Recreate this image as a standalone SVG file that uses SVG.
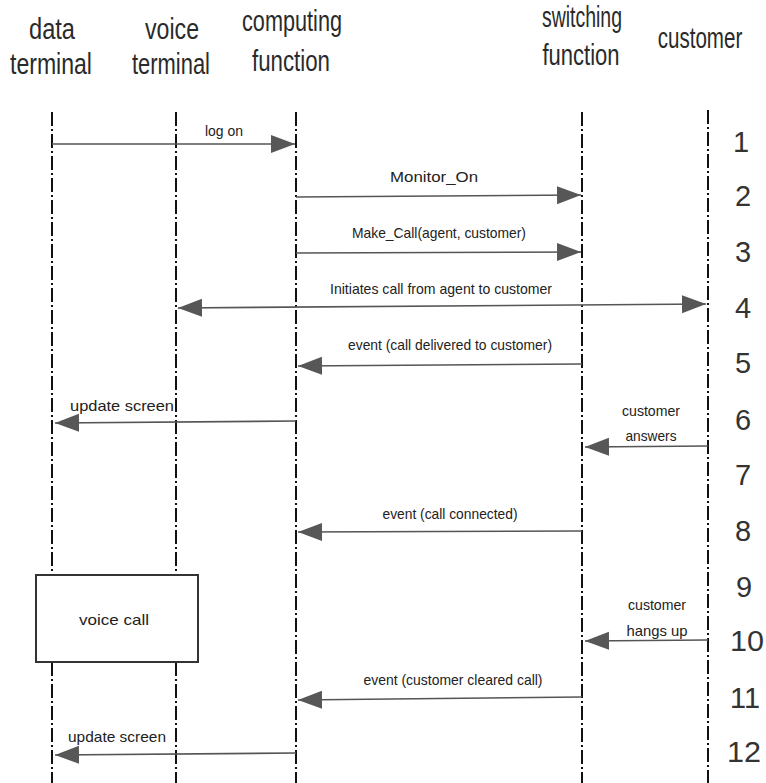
<svg xmlns="http://www.w3.org/2000/svg" width="766" height="783" viewBox="0 0 766 783">
  <style>
    .head { font-family: "Liberation Sans", Arial, sans-serif; font-size: 29px; fill: #2a2a2a; text-anchor: middle; }
    .num { font-family: "Liberation Sans", Arial, sans-serif; font-size: 29px; fill: #333; text-anchor: middle; }
    .lbl { font-family: "Liberation Sans", Arial, sans-serif; font-size: 15px; fill: #222; text-anchor: middle; }
    .life { stroke: #111; stroke-width: 2; stroke-dasharray: 14 3 2 3; fill: none; }
    .msg { stroke: #555; stroke-width: 1.6; fill: none; }
  </style>
  <defs>
    <marker id="head" markerUnits="userSpaceOnUse" markerWidth="26" markerHeight="20" refX="24" refY="9" orient="auto-start-reverse">
      <path d="M0,0 L24,9 L0,18 Z" fill="#575757"/>
    </marker>
  </defs>
  <rect width="766" height="783" fill="#fff"/>

  <!-- lifelines with their headings -->
  <g id="data-terminal">
    <line class="life" x1="52" y1="112" x2="52" y2="783"/>
    <text class="head" x="52" y="39" textLength="46" lengthAdjust="spacingAndGlyphs">data</text>
    <text class="head" x="51" y="74" textLength="82" lengthAdjust="spacingAndGlyphs">terminal</text>
  </g>
  <g id="voice-terminal">
    <line class="life" x1="176" y1="112" x2="176" y2="783"/>
    <text class="head" x="172" y="39" textLength="54" lengthAdjust="spacingAndGlyphs">voice</text>
    <text class="head" x="171" y="74" textLength="78" lengthAdjust="spacingAndGlyphs">terminal</text>
  </g>
  <g id="computing-function">
    <line class="life" x1="296" y1="112" x2="296" y2="783"/>
    <text class="head" x="292" y="31" textLength="100" lengthAdjust="spacingAndGlyphs">computing</text>
    <text class="head" x="291" y="71" textLength="78" lengthAdjust="spacingAndGlyphs">function</text>
  </g>
  <g id="switching-function">
    <line class="life" x1="582" y1="112" x2="582" y2="783"/>
    <text class="head" x="582" y="27" textLength="80" lengthAdjust="spacingAndGlyphs">switching</text>
    <text class="head" x="581" y="65" textLength="77" lengthAdjust="spacingAndGlyphs">function</text>
  </g>
  <g id="customer">
    <line class="life" x1="708" y1="110" x2="708" y2="783"/>
    <text class="head" transform="translate(700,48) scale(0.71,1)" x="0" y="0">customer</text>
  </g>

  <!-- voice call activity box -->
  <g id="voice-call">
    <rect x="36" y="575" width="162" height="87" fill="#fff" stroke="#333" stroke-width="2"/>
    <text class="lbl" x="114" y="625" font-size="18" textLength="70" lengthAdjust="spacingAndGlyphs">voice call</text>
  </g>

  <!-- step numbers -->
  <g id="steps">
    <text class="num" x="741" y="152">1</text>
    <text class="num" x="743" y="206">2</text>
    <text class="num" x="743" y="262">3</text>
    <text class="num" x="743" y="318">4</text>
    <text class="num" x="743" y="373">5</text>
    <text class="num" x="743" y="430">6</text>
    <text class="num" x="743" y="485">7</text>
    <text class="num" x="743" y="541">8</text>
    <text class="num" x="744" y="597">9</text>
    <text class="num" x="747" y="651" textLength="34" lengthAdjust="spacingAndGlyphs">10</text>
    <text class="num" x="745" y="708" textLength="30" lengthAdjust="spacingAndGlyphs">11</text>
    <text class="num" x="744" y="762" textLength="34" lengthAdjust="spacingAndGlyphs">12</text>
  </g>

  <!-- messages -->
  <g id="connectors">
    <line class="msg" x1="52" y1="144" x2="295" y2="144" marker-end="url(#head)"/>
    <line class="msg" x1="296" y1="197" x2="581" y2="195" marker-end="url(#head)"/>
    <line class="msg" x1="296" y1="253" x2="581" y2="252" marker-end="url(#head)"/>
    <line class="msg" x1="178" y1="308" x2="706" y2="304" marker-start="url(#head)" marker-end="url(#head)"/>
    <line class="msg" x1="582" y1="364" x2="298" y2="366" marker-end="url(#head)"/>
    <line class="msg" x1="296" y1="421" x2="55" y2="423" marker-end="url(#head)"/>
    <line class="msg" x1="708" y1="446" x2="585" y2="447" marker-end="url(#head)"/>
    <line class="msg" x1="582" y1="531" x2="298" y2="532" marker-end="url(#head)"/>
    <line class="msg" x1="708" y1="640" x2="585" y2="641" marker-end="url(#head)"/>
    <line class="msg" x1="582" y1="697" x2="298" y2="700" marker-end="url(#head)"/>
    <line class="msg" x1="296" y1="753" x2="55" y2="755" marker-end="url(#head)"/>
  </g>

  <!-- message labels -->
  <g id="labels">
    <text class="lbl" x="224" y="136" textLength="38" lengthAdjust="spacingAndGlyphs">log on</text>
    <text class="lbl" x="434" y="182" textLength="88" lengthAdjust="spacingAndGlyphs">Monitor_On</text>
    <text class="lbl" x="439" y="238" textLength="174" lengthAdjust="spacingAndGlyphs">Make_Call(agent, customer)</text>
    <text class="lbl" x="441" y="294" textLength="222" lengthAdjust="spacingAndGlyphs">Initiates call from agent to customer</text>
    <text class="lbl" x="450" y="350" textLength="204" lengthAdjust="spacingAndGlyphs">event (call delivered to customer)</text>
    <text class="lbl" x="122" y="411" textLength="104" lengthAdjust="spacingAndGlyphs">update screen</text>
    <text class="lbl" x="651" y="416" textLength="58" lengthAdjust="spacingAndGlyphs">customer</text>
    <text class="lbl" x="651" y="441" textLength="51" lengthAdjust="spacingAndGlyphs">answers</text>
    <text class="lbl" x="450" y="519" textLength="135" lengthAdjust="spacingAndGlyphs">event (call connected)</text>
    <text class="lbl" x="657" y="610" textLength="58" lengthAdjust="spacingAndGlyphs">customer</text>
    <text class="lbl" x="657" y="636" textLength="61" lengthAdjust="spacingAndGlyphs">hangs up</text>
    <text class="lbl" x="453" y="685" textLength="179" lengthAdjust="spacingAndGlyphs">event (customer cleared call)</text>
    <text class="lbl" x="117" y="742" textLength="98" lengthAdjust="spacingAndGlyphs">update screen</text>
  </g>
</svg>
